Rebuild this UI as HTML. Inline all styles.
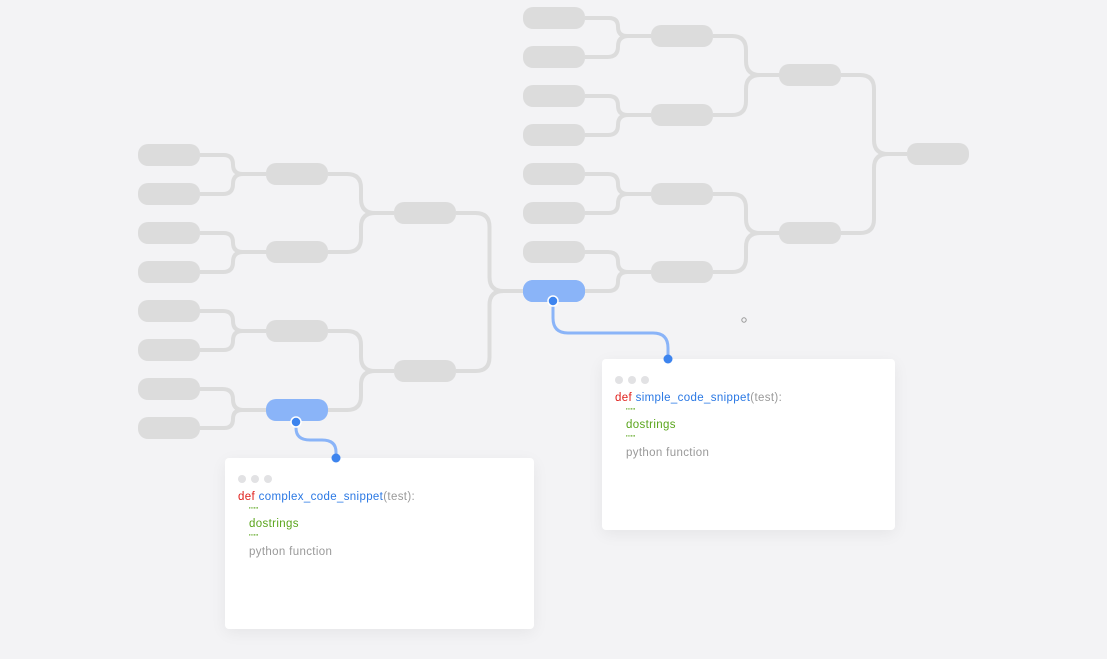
<!DOCTYPE html>
<html><head><meta charset="utf-8"><style>
html,body{margin:0;padding:0;background:#f3f3f5;width:1107px;height:659px;overflow:hidden;font-family:"Liberation Sans",sans-serif}
svg{position:absolute;left:0;top:0;z-index:2}
.card{position:absolute;background:#fff;border-radius:4px;box-shadow:0 4px 16px rgba(0,0,0,0.06);z-index:1}
.dots{position:absolute;left:13px;top:12px}
.dots i{display:inline-block;width:8px;height:8px;border-radius:50%;background:#e2e2e4;margin-right:5px}
.code{position:absolute;left:13px;top:32px;font-size:11.5px;line-height:14px;color:#999;letter-spacing:0.35px}
.r{color:#e0201c}.b{color:#2a78e4}.g{color:#5aa51c}
.ind{padding-left:11px}
.q{font-size:8px;line-height:13px}
</style></head><body>
<svg id="s" width="1107" height="659"></svg>
<div class="card" style="left:225px;top:458px;width:309px;height:171px">
<div class="dots"><i></i><i></i><i></i></div>
<div class="code"><span class="r">def</span> <span class="b">complex_code_snippet</span>(test):<br>
<div class="ind g q">"""</div><div class="ind g">dostrings</div><div class="ind g q">"""</div><div class="ind" style="margin-top:1px">python function</div></div>
</div>
<div class="card" style="left:602px;top:359px;width:293px;height:171px">
<div class="dots"><i></i><i></i><i></i></div>
<div class="code"><span class="r">def</span> <span class="b">simple_code_snippet</span>(test):<br>
<div class="ind g q">"""</div><div class="ind g">dostrings</div><div class="ind g q">"""</div><div class="ind" style="margin-top:1px">python function</div></div>
</div>
<script>
var s=document.getElementById('s'),h='';
function node(x,y,blue){h+='<rect x="'+x+'" y="'+(y-11)+'" width="62" height="22" rx="10" fill="'+(blue?'#8ab4f8':'#dcdcdc')+'"/>';}
function con(x1,y1,x2,y2){var xm=(x1+x2)/2,sg=y2>y1?1:-1,r=Math.min(14,Math.abs(y2-y1)/2);
h+='<path d="M'+x1+' '+y1+' L'+(xm-r)+' '+y1+' Q'+xm+' '+y1+' '+xm+' '+(y1+sg*r)+' L'+xm+' '+(y2-sg*r)+' Q'+xm+' '+y2+' '+(xm+r)+' '+y2+' L'+x2+' '+y2+'" fill="none" stroke="#dcdcdc" stroke-width="4"/>';}
function tree(xs,levels,blue){
 for(var l=0;l<levels.length-1;l++){for(var i=0;i<levels[l].length;i++){con(xs[l]+62,levels[l][i],xs[l+1],levels[l+1][Math.floor(i/2)]);}}
 for(var l=0;l<levels.length;l++)for(var i=0;i<levels[l].length;i++){node(xs[l],levels[l][i],blue.indexOf(l+':'+i)>=0);}
}
tree([138,266,394,523],[[155,194,233,272,311,350,389,428],[174,252,331,410],[213,371],[291]],['1:3','3:0']);
tree([523,651,779,907],[[18,57,96,135,174,213,252,291],[36,115,194,272],[75,233],[154]],['0:7']);
h+='<path d="M553 301 L553 318 Q553 333 568 333 L653 333 Q668 333 668 348 L668 359" fill="none" stroke="#8ab4f8" stroke-width="3"/>';
h+='<path d="M296 422 L296 428 Q296 440 310 440 L322 440 Q336 440 336 452 L336 458" fill="none" stroke="#8ab4f8" stroke-width="3"/>';
h+='<circle cx="553" cy="301" r="5" fill="#3d84ee" stroke="#fff" stroke-width="1.5"/><circle cx="668" cy="359" r="4.5" fill="#3d84ee"/>';
h+='<circle cx="296" cy="422" r="5" fill="#3d84ee" stroke="#fff" stroke-width="1.5"/><circle cx="336" cy="458" r="4.5" fill="#3d84ee"/>';
h+='<circle cx="744" cy="320" r="2.2" fill="none" stroke="#999" stroke-width="1"/>';
s.innerHTML=h;
</script>
</body></html>
